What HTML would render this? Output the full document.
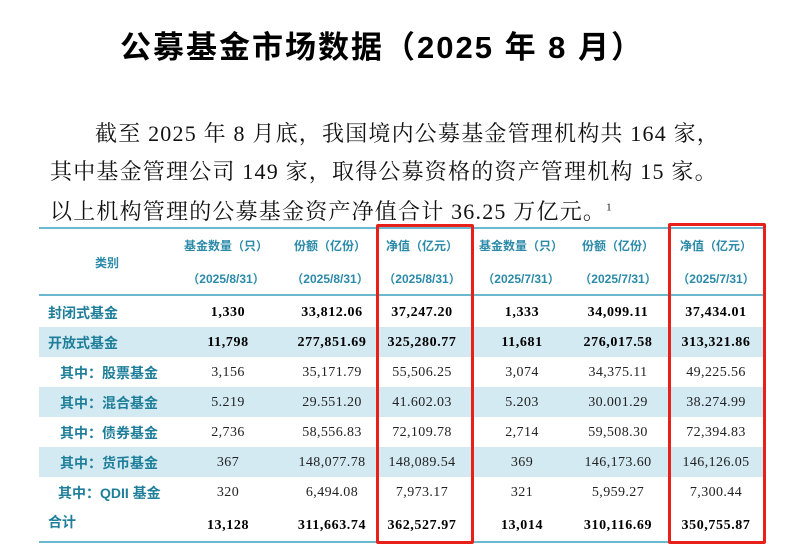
<!DOCTYPE html>
<html><head><meta charset="utf-8">
<style>
body{margin:0;width:800px;height:560px;background:#fff;position:relative;overflow:hidden;font-family:"Liberation Serif","Noto Serif CJK SC",serif;}
.a{position:absolute;white-space:nowrap;}
.t{font-family:"Liberation Sans","Noto Sans CJK SC",sans-serif;font-weight:bold;font-size:31px;left:120px;top:22px;color:#000;letter-spacing:2px}
.p{font-size:22px;color:#111;letter-spacing:1.2px}
.sh{position:absolute;left:39px;width:726px;height:30px;background:#d3eaf2}
.hl{position:absolute;left:39px;width:726px;height:2px;background:#6db8cf}
.h{font-family:"Liberation Sans","Noto Sans CJK SC",sans-serif;font-weight:bold;font-size:12px;color:#2a8aa8;transform:translateX(-50%)}
.l{font-family:"Liberation Sans","Noto Sans CJK SC",sans-serif;font-weight:bold;font-size:14px;color:#1f7f9a}
.n{font-size:14px;color:#222;transform:translateX(-50%);letter-spacing:0.4px}
.b{font-weight:bold;color:#000;letter-spacing:0.6px}
.r{position:absolute;border:3px solid #e8201a;border-radius:2px}
</style></head><body>
<div class="a t">公募基金市场数据（2025 年 8 月）</div>
<div class="a p" style="left:95px;top:117px">截至 2025 年 8 月底，我国境内公募基金管理机构共 164 家，</div>
<div class="a p" style="left:50px;top:155px">其中基金管理公司 149 家，取得公募资格的资产管理机构 15 家。</div>
<div class="a p" style="left:50px;top:195px">以上机构管理的公募基金资产净值合计 36.25 万亿元。<sup style="font-size:11px">1</sup></div>

<div class="sh" style="top:327px"></div>
<div class="sh" style="top:387px"></div>
<div class="sh" style="top:447px"></div>
<div class="hl" style="top:227px"></div>
<div class="hl" style="top:294px"></div>
<div class="hl" style="top:541px"></div>

<div class="a h" style="left:107px;top:254px">类别</div>
<div class="a h" style="left:226px;top:237px">基金数量（只）</div>
<div class="a h" style="left:330px;top:237px">份额（亿份）</div>
<div class="a h" style="left:422px;top:237px">净值（亿元）</div>
<div class="a h" style="left:521px;top:237px">基金数量（只）</div>
<div class="a h" style="left:618px;top:237px">份额（亿份）</div>
<div class="a h" style="left:716px;top:237px">净值（亿元）</div>
<div class="a h" style="left:226px;top:270px">（2025/8/31）</div>
<div class="a h" style="left:330px;top:270px">（2025/8/31）</div>
<div class="a h" style="left:422px;top:270px">（2025/8/31）</div>
<div class="a h" style="left:521px;top:270px">（2025/7/31）</div>
<div class="a h" style="left:618px;top:270px">（2025/7/31）</div>
<div class="a h" style="left:716px;top:270px">（2025/7/31）</div>

<div class="a l" style="left:48px;top:303px">封闭式基金</div>
<div class="a l" style="left:48px;top:333px">开放式基金</div>
<div class="a l" style="left:60px;top:363px">其中：股票基金</div>
<div class="a l" style="left:60px;top:393px">其中：混合基金</div>
<div class="a l" style="left:60px;top:423px">其中：债券基金</div>
<div class="a l" style="left:60px;top:453px">其中：货币基金</div>
<div class="a l" style="left:58px;top:483px">其中：QDII 基金</div>
<div class="a l" style="left:48px;top:512px">合计</div>

<div class="a n b" style="left:228px;top:305px">1,330</div><div class="a n b" style="left:332px;top:305px">33,812.06</div><div class="a n b" style="left:422px;top:305px">37,247.20</div><div class="a n b" style="left:522px;top:305px">1,333</div><div class="a n b" style="left:618px;top:305px">34,099.11</div><div class="a n b" style="left:716px;top:305px">37,434.01</div>
<div class="a n b" style="left:228px;top:335px">11,798</div><div class="a n b" style="left:332px;top:335px">277,851.69</div><div class="a n b" style="left:422px;top:335px">325,280.77</div><div class="a n b" style="left:522px;top:335px">11,681</div><div class="a n b" style="left:618px;top:335px">276,017.58</div><div class="a n b" style="left:716px;top:335px">313,321.86</div>
<div class="a n" style="left:228px;top:365px">3,156</div><div class="a n" style="left:332px;top:365px">35,171.79</div><div class="a n" style="left:422px;top:365px">55,506.25</div><div class="a n" style="left:522px;top:365px">3,074</div><div class="a n" style="left:618px;top:365px">34,375.11</div><div class="a n" style="left:716px;top:365px">49,225.56</div>
<div class="a n" style="left:228px;top:395px">5.219</div><div class="a n" style="left:332px;top:395px">29.551.20</div><div class="a n" style="left:422px;top:395px">41.602.03</div><div class="a n" style="left:522px;top:395px">5.203</div><div class="a n" style="left:618px;top:395px">30.001.29</div><div class="a n" style="left:716px;top:395px">38.274.99</div>
<div class="a n" style="left:228px;top:425px">2,736</div><div class="a n" style="left:332px;top:425px">58,556.83</div><div class="a n" style="left:422px;top:425px">72,109.78</div><div class="a n" style="left:522px;top:425px">2,714</div><div class="a n" style="left:618px;top:425px">59,508.30</div><div class="a n" style="left:716px;top:425px">72,394.83</div>
<div class="a n" style="left:228px;top:455px">367</div><div class="a n" style="left:332px;top:455px">148,077.78</div><div class="a n" style="left:422px;top:455px">148,089.54</div><div class="a n" style="left:522px;top:455px">369</div><div class="a n" style="left:618px;top:455px">146,173.60</div><div class="a n" style="left:716px;top:455px">146,126.05</div>
<div class="a n" style="left:228px;top:485px">320</div><div class="a n" style="left:332px;top:485px">6,494.08</div><div class="a n" style="left:422px;top:485px">7,973.17</div><div class="a n" style="left:522px;top:485px">321</div><div class="a n" style="left:618px;top:485px">5,959.27</div><div class="a n" style="left:716px;top:485px">7,300.44</div>
<div class="a n b" style="left:228px;top:518px">13,128</div><div class="a n b" style="left:332px;top:518px">311,663.74</div><div class="a n b" style="left:422px;top:518px">362,527.97</div><div class="a n b" style="left:522px;top:518px">13,014</div><div class="a n b" style="left:618px;top:518px">310,116.69</div><div class="a n b" style="left:716px;top:518px">350,755.87</div>

<div class="r" style="left:376px;top:224px;width:92px;height:314px"></div>
<div class="r" style="left:668px;top:223px;width:92px;height:315px"></div>
</body></html>
